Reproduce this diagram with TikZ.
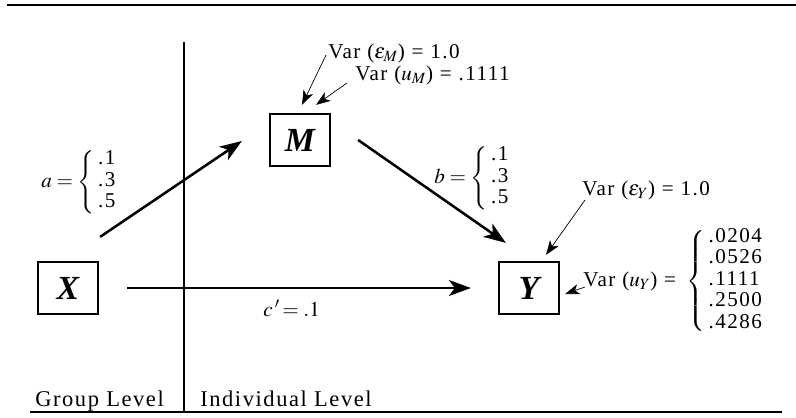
\documentclass[tikz,border=0pt]{standalone}
\usepackage{mathptmx}
\usepackage{fontspec}
\setmainfont{Liberation Serif}[LetterSpace=7]
\usepackage{tikz}
\usetikzlibrary{arrows.meta,positioning,calc}
\tikzset{
  varbox/.style={draw, line width=1.6pt, minimum width=1.5cm, minimum height=1.3cm, inner sep=0pt, font=\fontsize{24}{24}\selectfont\bfseries\itshape},
  bigarr/.style={-{Stealth[length=5.5mm, width=4mm, inset=1.5mm]}, line width=1.8pt},
  thinarr/.style={-{Stealth[length=3.6mm, width=2.6mm, inset=1mm]}, line width=0.5pt},
  rule/.style={line width=1.9pt},
  lbl/.style={inner sep=0pt, font=\fontsize{15}{15.2}\selectfont},
  lvl/.style={inner sep=0pt, font=\fontsize{16}{18}\selectfont},
}
\begin{document}
\begin{tikzpicture}[x=0.025cm, y=-0.025cm]
  \useasboundingbox (0,0) rectangle (796,417);
  % frame
  \draw[rule] (7,5) -- (796,5);
  \draw[rule] (30,412) -- (782,412);
  \draw[line width=1.5pt] (184,42) -- (184,412);
  % variables
  \node[varbox] (x) at (68,288) {X};
  \node[varbox] (m) at (300,140) {M};
  \node[varbox] (y) at (529,288) {Y};
  % paths
  \draw[bigarr] ([shift={(1,-24)}]x.north east) -- ([shift={(-27,1)}]m.west);
  \draw[bigarr] ([shift={(27,0)}]m.east) -- ([shift={(8,-18)}]y.north west);
  \draw[bigarr, shorten <=0.7cm, shorten >=0.675cm] (x.east) -- (y.west);
  \node[lbl, anchor=west] (a) at (41,182) {$a = \left\{\begin{tabular}{@{\,}l@{}}.1\\.3\\.5\end{tabular}\right.$};
  \node[lbl, anchor=west] (b) at (434,178) {$b = \left\{\begin{tabular}{@{\,}l@{}}.1\\.3\\.5\end{tabular}\right.$};
  \node[lbl, anchor=base west] (c) at (263,316) {$c\,'\!= .1$};
  % residual variances
  \node[lbl, anchor=base west] (vem) at (328,58) {Var ($\varepsilon_M$) = 1.0};
  \node[lbl, anchor=base west] (vum) at (355,80) {Var ($u_M$) = .1111};
  \node[lbl, anchor=base west] (vey) at (582,195) {Var ($\varepsilon_Y$) = 1.0};
  \node[lbl, anchor=west] (vuy) at (583,281) {Var ($u_Y$) = \,$\left\{\begin{tabular}{@{\,}l@{}}.0204\\.0526\\.1111\\.2500\\.4286\end{tabular}\right.$};
  \draw[thinarr] ([shift={(-2,-3)}]vem.base west) -- ([shift={(2,-8)}]m.north);
  \draw[thinarr] ([shift={(-8,3)}]vum.base west) -- ([shift={(16,-8)}]m.north);
  \draw[thinarr] ([shift={(3,5)}]vey.base west) -- ([shift={(17,-6)}]y.north);
  \draw[thinarr] ([shift={(2,6)}]vuy.west) -- ([shift={(5,6)}]y.east);
  % levels
  \node[lvl, anchor=base west] (grp) at (35,406) {Group Level};
  \node[lvl, anchor=base west] (ind) at (200,406) {Individual Level};
\end{tikzpicture}
\end{document}
